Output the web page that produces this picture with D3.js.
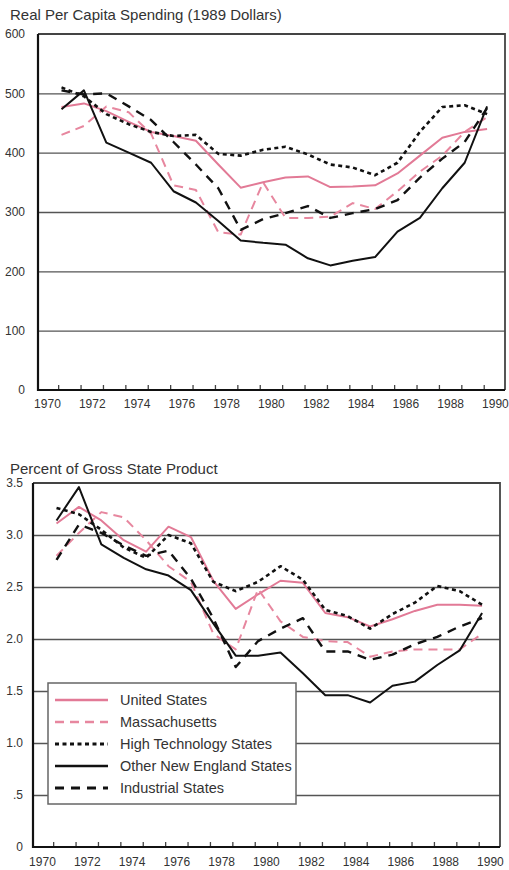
<!DOCTYPE html>
<html>
<head>
<meta charset="utf-8">
<script src="https://cdn.jsdelivr.net/npm/d3@7"></script>
<style>
  body { margin: 0; background: #fff; }
  svg { display: block; font-family: "Liberation Sans", Arial, sans-serif; }
</style>
</head>
<body>
<div id="chart"></div>
<script>
// data years (plotted a little past the tick marks, as in the print)
const years = d3.range(1970, 1990);
const yearLabels = [1970, 1972, 1974, 1976, 1978, 1980, 1982, 1984, 1986, 1988, 1990];
const yearTicks = d3.range(1970, 1990).map(y => y + 0.5);

const seriesNames = ["United States", "Massachusetts", "High Technology States", "Other New England States", "Industrial States"];

// Real per capita spending (1989 dollars)
const spendingTicks = [0, 100, 200, 300, 400, 500, 600];
const spendingUS = [477, 483, 470, 452, 435, 428, 420, 380, 341, 350, 358, 360, 342, 343, 345, 365, 395, 425, 435, 440];
const spendingMass = [430, 445, 478, 468, 432, 345, 337, 266, 262, 350, 290, 290, 292, 315, 305, 335, 368, 395, 435, 460];
const spendingHighTech = [510, 495, 465, 448, 435, 428, 430, 398, 395, 405, 410, 397, 380, 375, 362, 383, 435, 477, 480, 465];
const spendingOtherNE = [473, 505, 417, 400, 383, 335, 316, 285, 252, 248, 245, 222, 210, 218, 224, 267, 290, 340, 383, 478];
const spendingIndustrial = [505, 498, 500, 478, 455, 418, 380, 340, 270, 288, 298, 310, 290, 298, 305, 320, 358, 390, 418, 475];

// Percent of gross state product
const gspTicks = [0, 0.5, 1.0, 1.5, 2.0, 2.5, 3.0, 3.5];
const gspUS = [3.11, 3.27, 3.14, 2.95, 2.84, 3.08, 2.98, 2.56, 2.29, 2.43, 2.56, 2.54, 2.25, 2.21, 2.12, 2.19, 2.27, 2.33, 2.33, 2.32];
const gspMass = [2.8, 3.02, 3.22, 3.17, 2.95, 2.7, 2.55, 2.05, 1.9, 2.48, 2.17, 2.02, 1.98, 1.97, 1.83, 1.88, 1.9, 1.9, 1.9, 2.05];
const gspHighTech = [3.26, 3.2, 3.05, 2.88, 2.78, 3.0, 2.92, 2.55, 2.46, 2.55, 2.7, 2.57, 2.28, 2.22, 2.1, 2.24, 2.35, 2.51, 2.46, 2.33];
const gspOtherNE = [3.14, 3.46, 2.91, 2.78, 2.67, 2.61, 2.47, 2.15, 1.84, 1.84, 1.87, 1.67, 1.46, 1.46, 1.39, 1.55, 1.59, 1.75, 1.89, 2.25];
const gspIndustrial = [2.76, 3.1, 3.02, 2.9, 2.8, 2.85, 2.58, 2.2, 1.73, 1.98, 2.1, 2.2, 1.88, 1.88, 1.8, 1.85, 1.95, 2.02, 2.12, 2.2];

const PINK = "#e27a96";
const INK = "#333";
const STYLES = [
  { color: PINK, width: 2, dash: null },
  { color: "#e7879f", width: 2, dash: "9,6" },
  { color: "#111", width: 2.6, dash: "4,3.5" },
  { color: "#111", width: 2, dash: null },
  { color: "#111", width: 2.4, dash: "9,7" }
];
const DATA_OFFSET = 0.65;

const svg = d3.select("#chart").append("svg")
  .attr("width", 509).attr("height", 870);

function panel(cfg) {
  const x = d3.scaleLinear().domain([1969.6, 1990.45]).range([cfg.left, cfg.right]);
  const y = d3.scaleLinear().domain([0, d3.max(cfg.ticks)]).range([cfg.bottom, cfg.top]);
  const g = svg.append("g");

  g.append("text")
    .attr("x", 10).attr("y", cfg.titleY)
    .attr("font-size", 15).attr("fill", INK)
    .text(cfg.title);

  // gridlines
  g.append("g")
    .attr("transform", `translate(${cfg.left},0)`)
    .call(d3.axisLeft(y).tickValues(cfg.ticks.slice(1, -1)).tickSize(-(cfg.right - cfg.left)).tickFormat(""))
    .call(s => s.select(".domain").remove())
    .call(s => s.selectAll("line").attr("stroke", "#555").attr("stroke-width", 1.3));

  // frame top/right
  g.append("path")
    .attr("d", `M${cfg.left},${cfg.top}H${cfg.right}V${cfg.bottom}`)
    .attr("fill", "none").attr("stroke", "#444").attr("stroke-width", 1.8);

  // y labels
  g.append("g")
    .attr("transform", `translate(${cfg.left},0)`)
    .call(d3.axisLeft(y).tickValues(cfg.ticks).tickSize(0).tickPadding(cfg.yPad).tickFormat(cfg.fmt))
    .call(s => s.select(".domain").remove())
    .call(s => s.selectAll("text").attr("font-size", 12).attr("fill", INK).attr("font-family", null));

  // x tick marks (point up into the plot)
  g.append("g")
    .attr("transform", `translate(0,${cfg.bottom})`)
    .call(d3.axisBottom(x).tickValues(yearTicks).tickSizeInner(-5).tickSizeOuter(0).tickFormat(""))
    .call(s => s.select(".domain").remove())
    .call(s => s.selectAll("line").attr("stroke", "#444").attr("stroke-width", 1.3));

  // x labels
  g.append("g")
    .attr("transform", `translate(0,${cfg.bottom})`)
    .call(d3.axisBottom(x).tickValues(yearLabels).tickSize(0).tickPadding(cfg.xPad).tickFormat(d3.format("d")))
    .call(s => s.select(".domain").remove())
    .call(s => s.selectAll("text").attr("font-size", 12).attr("fill", INK).attr("font-family", null));

  // left and bottom axis lines
  g.append("path")
    .attr("d", `M${cfg.left},${cfg.top}V${cfg.bottom}H${cfg.right}`)
    .attr("fill", "none").attr("stroke", "#111").attr("stroke-width", 2.2);

  const line = d3.line()
    .x((d, i) => x(years[i] + DATA_OFFSET))
    .y(d => y(d));

  cfg.series.forEach((vals, i) => {
    const st = STYLES[i];
    g.append("path")
      .datum(vals)
      .attr("d", line)
      .attr("fill", "none")
      .attr("stroke", st.color)
      .attr("stroke-width", st.width)
      .attr("stroke-dasharray", st.dash)
      .attr("stroke-linejoin", "round");
  });
  return { x, y, g };
}

panel({
  title: "Real Per Capita Spending (1989 Dollars)", titleY: 20,
  left: 38, right: 505, top: 34, bottom: 390,
  ticks: spendingTicks, fmt: d3.format("d"), yPad: 13, xPad: 9,
  series: [spendingUS, spendingMass, spendingHighTech, spendingOtherNE, spendingIndustrial]
});

const bottomPanel = panel({
  title: "Percent of Gross State Product", titleY: 474,
  left: 33, right: 500, top: 483, bottom: 847,
  ticks: gspTicks, fmt: d => d === 0 ? "0" : d3.format(".1f")(d).replace(/^0/, ""), yPad: 10, xPad: 10,
  series: [gspUS, gspMass, gspHighTech, gspOtherNE, gspIndustrial]
});

// legend
const legend = svg.append("g").attr("transform", "translate(48,683)");
legend.append("rect")
  .attr("width", 248).attr("height", 121)
  .attr("fill", "#fff").attr("stroke", "#666").attr("stroke-width", 1.5);
const rows = legend.selectAll("g.row").data(seriesNames).enter().append("g")
  .attr("class", "row")
  .attr("transform", (d, i) => `translate(0,${17 + i * 22})`);
rows.append("line")
  .attr("x1", 7).attr("x2", 60)
  .attr("stroke", (d, i) => STYLES[i].color)
  .attr("stroke-width", (d, i) => STYLES[i].width + 0.4)
  .attr("stroke-dasharray", (d, i) => STYLES[i].dash);
rows.append("text")
  .attr("x", 72).attr("dy", "0.36em")
  .attr("font-size", 14.5).attr("fill", INK)
  .text(d => d);
</script>
</body>
</html>
